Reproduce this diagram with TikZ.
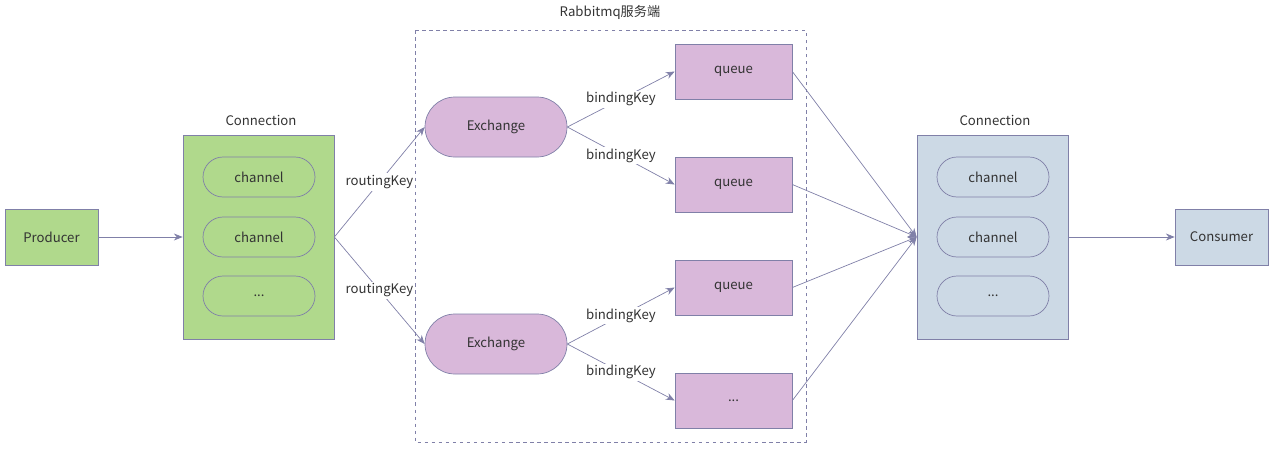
\documentclass[tikz,border=0pt]{standalone}
\usepackage{fontspec}
\setmainfont{Noto Sans CJK SC}
\usetikzlibrary{arrows.meta,positioning}
\definecolor{edge}{HTML}{8080A8}
\definecolor{grnA}{HTML}{B0D98C}
\definecolor{grnB}{HTML}{C9E5B3}
\definecolor{purA}{HTML}{D9B8DA}
\definecolor{purB}{HTML}{E6D3E7}
\definecolor{bluA}{HTML}{CCD9E5}
\definecolor{bluB}{HTML}{DDE5EE}
\tikzset{
	box/.style={draw=edge, minimum width=#1, inner sep=0pt},
	green/.style={left color=grnA, middle color=grnB, right color=grnA},
	purple/.style={left color=purA, middle color=purB, right color=purA},
	bluish/.style={left color=bluA, middle color=bluB, right color=bluA},
	pill/.style={draw=edge, rounded corners=20*0.02cm, minimum width=112*0.02cm, minimum height=40*0.02cm, inner sep=0pt},
	link/.style={draw=edge, -{Stealth[length=5pt,width=4pt]}},
	key/.style={fill=white, inner sep=1pt}
}
\begin{document}
\begin{tikzpicture}[x=0.02cm, y=-0.02cm, font=\fontsize{7.5}{9}\selectfont, text=black!80]
	\useasboundingbox (0,0) rectangle (1274,450);
	% server area
	\draw[edge, dash pattern=on 2pt off 2pt] (415,30) rectangle (806,442);
	\node (server) at (610,12) {Rabbitmq服务端};

	% producer side
	\node[box=93*0.02cm, minimum height=56*0.02cm, green] (producer) at (51.5,237) {Producer};
	\node[box=151*0.02cm, minimum height=204*0.02cm, green] (connL) at (258.5,237) {};
	\node (connL-title) at (261,120) {Connection};
	\node[pill, green] (chL1) at (259,177) {channel};
	\node[pill, green] (chL2) at (259,237) {channel};
	\node[pill, green] (chL3) at (259,296) {...};

	% exchanges and queues
	\node[pill, purple, minimum width=142*0.02cm, minimum height=60*0.02cm, rounded corners=30*0.02cm] (ex1) at (496,127) {Exchange};
	\node[pill, purple, minimum width=142*0.02cm, minimum height=60*0.02cm, rounded corners=30*0.02cm] (ex2) at (496,344) {Exchange};
	\node[box=117*0.02cm, minimum height=55*0.02cm, purple] (q1) at (733.5,71.5) {queue};
	\node[box=117*0.02cm, minimum height=55*0.02cm, purple] (q2) at (733.5,184.5) {queue};
	\node[box=117*0.02cm, minimum height=55*0.02cm, purple] (q3) at (733.5,287.5) {queue};
	\node[box=117*0.02cm, minimum height=55*0.02cm, purple] (q4) at (733.5,400.5) {...};

	% consumer side
	\node[box=151*0.02cm, minimum height=204*0.02cm, bluish] (connR) at (992.5,237) {};
	\node (connR-title) at (995,120) {Connection};
	\node[pill, bluish] (chR1) at (993,177) {channel};
	\node[pill, bluish] (chR2) at (993,237) {channel};
	\node[pill, bluish] (chR3) at (993,296) {...};
	\node[box=93*0.02cm, minimum height=56*0.02cm, bluish] (consumer) at (1221.5,237) {Consumer};

	% connectors
	\draw[link] (producer) -- (connL);
	\draw[link] (connL.east) -- node[key, pos=0.5] {routingKey} (ex1.west);
	\draw[link] (connL.east) -- node[key, pos=0.5] {routingKey} (ex2.west);
	\draw[link] (ex1.east) -- node[key, pos=0.5] {bindingKey} (q1.west);
	\draw[link] (ex1.east) -- node[key, pos=0.5] {bindingKey} (q2.west);
	\draw[link] (ex2.east) -- node[key, pos=0.5] {bindingKey} (q3.west);
	\draw[link] (ex2.east) -- node[key, pos=0.5] {bindingKey} (q4.west);
	\foreach \q in {q1,q2,q3,q4}
		\draw[link] (\q.east) -- (connR.west);
	\draw[link] (connR) -- (consumer);
\end{tikzpicture}
\end{document}
